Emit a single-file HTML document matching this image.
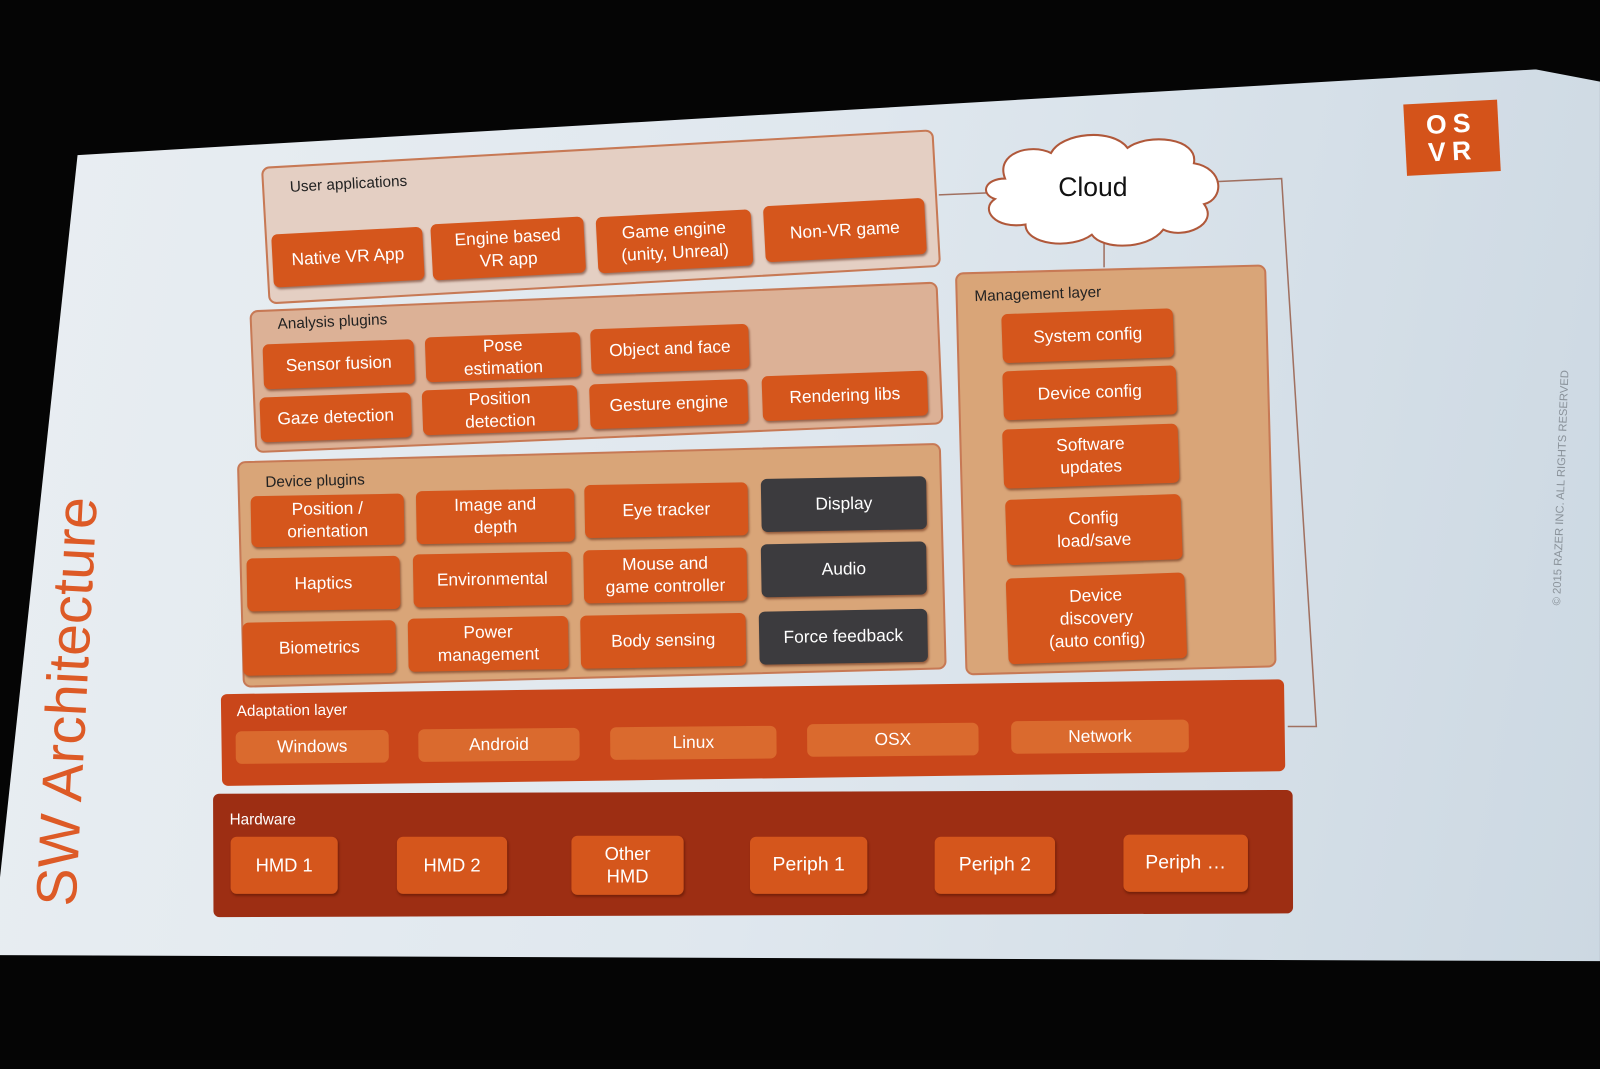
<!DOCTYPE html>
<html><head><meta charset="utf-8"><style>
html,body{margin:0;padding:0;background:#050505;width:1600px;height:1069px;overflow:hidden}
#w{position:absolute;left:0;top:0;width:1568px;height:1048px;transform:scale(1.0204);transform-origin:0 0;font-family:"Liberation Sans",sans-serif}
#scr{position:absolute;left:0;top:0;width:1568px;height:1048px;background:linear-gradient(100deg,#e9eef2 0%,#dfe7ee 50%,#ccd8e2 100%);clip-path:polygon(76px 152px,1505px 68px,1568px 80px,1568px 942px,0px 936px,0px 860px)}
.c{position:absolute;box-sizing:border-box;border-radius:8px}
.b{position:absolute;box-sizing:border-box;background:#d5561c;color:#fff;border-radius:6px;display:flex;align-items:center;justify-content:center;text-align:center;font-size:17px;line-height:22px;box-shadow:1px 2px 2px rgba(80,20,0,.5)}
.d{background:#3c3b3e}
.l{position:absolute;font-size:15px;color:#222;white-space:nowrap}
</style></head><body><div id="w">
<div id="scr"></div>

<!-- connector lines -->
<svg style="position:absolute;left:0;top:0" width="1568" height="1048">
<polyline points="920,191 968,189" fill="none" stroke="#a07060" stroke-width="1.5"/>
<polyline points="1192,178 1256,175 1290,712 1262,712" fill="none" stroke="#a07060" stroke-width="1.5"/>
<polyline points="1082,232 1082,262" fill="none" stroke="#a07060" stroke-width="1.5"/>
<path d="M985,175 C975,150 1010,140 1030,150 C1040,130 1090,125 1105,145 C1125,130 1175,135 1170,160 C1200,165 1200,195 1180,200 C1195,220 1160,235 1140,225 C1125,245 1080,245 1070,230 C1050,245 1005,240 1005,220 C975,225 960,205 975,195 C960,190 965,175 985,175 Z" fill="#fff" stroke="#b0583a" stroke-width="2"/>
<text x="1071" y="192" font-family="Liberation Sans,sans-serif" font-size="26" text-anchor="middle" fill="#111">Cloud</text>
</svg>

<!-- User applications -->
<div class="c" style="left:259px;top:145px;width:660px;height:135px;background:#e4cfc3;border:2px solid #c77955;transform:rotate(-3.2deg)"></div>
<div class="l" style="left:284px;top:172px;transform:rotate(-3deg)">User applications</div>
<div class="b" style="left:267px;top:226px;width:148px;height:52px;transform:rotate(-3deg)">Native VR App</div>
<div class="b" style="left:423px;top:216px;width:150px;height:55px;transform:rotate(-3deg)">Engine based<br>VR app</div>
<div class="b" style="left:585px;top:209px;width:152px;height:55px;transform:rotate(-3deg)">Game engine<br>(unity, Unreal)</div>
<div class="b" style="left:749px;top:198px;width:158px;height:55px;transform:rotate(-3deg)">Non-VR game</div>

<!-- Analysis plugins -->
<div class="c" style="left:247px;top:290px;width:675px;height:140px;background:#dcb196;border:2px solid #c77955;transform:rotate(-2.4deg)"></div>
<div class="l" style="left:272px;top:307px;transform:rotate(-2.5deg)">Analysis plugins</div>
<div class="b" style="left:258px;top:335px;width:148px;height:44px;transform:rotate(-2deg)">Sensor fusion</div>
<div class="b" style="left:417px;top:328px;width:152px;height:44px;transform:rotate(-2deg)">Pose<br>estimation</div>
<div class="b" style="left:579px;top:320px;width:155px;height:44px;transform:rotate(-2deg)">Object and face</div>
<div class="b" style="left:255px;top:387px;width:148px;height:44px;transform:rotate(-2deg)">Gaze detection</div>
<div class="b" style="left:414px;top:380px;width:152px;height:44px;transform:rotate(-2deg)">Position<br>detection</div>
<div class="b" style="left:578px;top:374px;width:155px;height:44px;transform:rotate(-2deg)">Gesture engine</div>
<div class="b" style="left:747px;top:366px;width:162px;height:44px;transform:rotate(-2deg)">Rendering libs</div>

<!-- Device plugins -->
<div class="c" style="left:235px;top:443px;width:690px;height:222px;background:#d9a578;border:2px solid #c77955;transform:rotate(-1.5deg)"></div>
<div class="l" style="left:260px;top:463px;transform:rotate(-1.5deg)">Device plugins</div>
<div class="b" style="left:246px;top:485px;width:150px;height:50px;transform:rotate(-1deg)">Position /<br>orientation</div>
<div class="b" style="left:408px;top:480px;width:155px;height:52px;transform:rotate(-1deg)">Image and<br>depth</div>
<div class="b" style="left:573px;top:474px;width:160px;height:52px;transform:rotate(-1deg)">Eye tracker</div>
<div class="b d" style="left:746px;top:468px;width:162px;height:52px;transform:rotate(-1deg)">Display</div>
<div class="b" style="left:242px;top:546px;width:150px;height:52px;transform:rotate(-1deg)">Haptics</div>
<div class="b" style="left:405px;top:542px;width:155px;height:52px;transform:rotate(-1deg)">Environmental</div>
<div class="b" style="left:572px;top:538px;width:160px;height:52px;transform:rotate(-1deg)">Mouse and<br>game controller</div>
<div class="b d" style="left:746px;top:532px;width:162px;height:52px;transform:rotate(-1deg)">Audio</div>
<div class="b" style="left:238px;top:609px;width:150px;height:52px;transform:rotate(-1deg)">Biometrics</div>
<div class="b" style="left:400px;top:605px;width:157px;height:52px;transform:rotate(-1deg)">Power<br>management</div>
<div class="b" style="left:569px;top:602px;width:162px;height:52px;transform:rotate(-1deg)">Body sensing</div>
<div class="b d" style="left:744px;top:598px;width:165px;height:52px;transform:rotate(-1deg)">Force feedback</div>

<!-- Management layer -->
<div class="c" style="left:941px;top:263px;width:305px;height:395px;background:#d9a578;border:2px solid #c77955;transform:rotate(-1.5deg)"></div>
<div class="l" style="left:955px;top:280px;transform:rotate(-2deg)">Management layer</div>
<div class="b" style="left:982px;top:305px;width:168px;height:48px;transform:rotate(-2deg)">System config</div>
<div class="b" style="left:983px;top:361px;width:170px;height:48px;transform:rotate(-2deg)">Device config</div>
<div class="b" style="left:983px;top:418px;width:172px;height:58px;transform:rotate(-2deg)">Software<br>updates</div>
<div class="b" style="left:986px;top:487px;width:172px;height:64px;transform:rotate(-2deg)">Config<br>load/save</div>
<div class="b" style="left:987px;top:564px;width:175px;height:84px;transform:rotate(-2deg)">Device<br>discovery<br>(auto config)</div>

<!-- Adaptation layer -->
<div class="c" style="left:217px;top:673px;width:1042px;height:90px;background:#c9461a;border-radius:6px;transform:rotate(-0.8deg)"></div>
<div class="l" style="left:232px;top:688px;color:#fff;transform:rotate(-0.8deg)">Adaptation layer</div>
<div class="b" style="left:231px;top:716px;width:150px;height:32px;background:#da6a2e;box-shadow:none;transform:rotate(-0.5deg)">Windows</div>
<div class="b" style="left:410px;top:714px;width:158px;height:32px;background:#da6a2e;box-shadow:none;transform:rotate(-0.5deg)">Android</div>
<div class="b" style="left:598px;top:712px;width:163px;height:32px;background:#da6a2e;box-shadow:none;transform:rotate(-0.5deg)">Linux</div>
<div class="b" style="left:791px;top:709px;width:168px;height:32px;background:#da6a2e;box-shadow:none;transform:rotate(-0.5deg)">OSX</div>
<div class="b" style="left:991px;top:706px;width:174px;height:32px;background:#da6a2e;box-shadow:none;transform:rotate(-0.5deg)">Network</div>

<!-- Hardware -->
<div class="c" style="left:209px;top:776px;width:1058px;height:121px;background:#9d2e13;border-radius:6px;transform:rotate(-0.2deg)"></div>
<div class="l" style="left:225px;top:795px;color:#fff">Hardware</div>
<div class="b" style="left:226px;top:820px;width:105px;height:56px;font-size:18px">HMD 1</div>
<div class="b" style="left:389px;top:820px;width:108px;height:56px;font-size:18px">HMD 2</div>
<div class="b" style="left:560px;top:819px;width:110px;height:58px;font-size:18px">Other<br>HMD</div>
<div class="b" style="left:735px;top:820px;width:115px;height:56px;font-size:19px">Periph 1</div>
<div class="b" style="left:916px;top:820px;width:118px;height:56px;font-size:19px">Periph 2</div>
<div class="b" style="left:1101px;top:818px;width:122px;height:56px;font-size:19px">Periph …</div>

<!-- Logo -->
<div style="position:absolute;left:1377px;top:100px;width:92px;height:70px;background:#d4531a;transform:rotate(-3deg);color:#fff;font-size:26px;font-weight:bold;letter-spacing:6px;line-height:27px;text-align:center;padding-top:8px;box-sizing:border-box">OS<br>VR</div>

<!-- copyright -->
<div style="position:absolute;left:1400px;top:472px;width:260px;font-size:11px;color:#8a929a;transform:rotate(-88deg);white-space:nowrap;text-align:center">© 2015 RAZER INC. ALL RIGHTS RESERVED</div>

<!-- title -->
<div style="position:absolute;left:-145px;top:655px;width:420px;font-size:56px;color:#dd5a26;transform:rotate(-87deg);white-space:nowrap;text-align:center">SW Architecture</div>
</div></body></html>
